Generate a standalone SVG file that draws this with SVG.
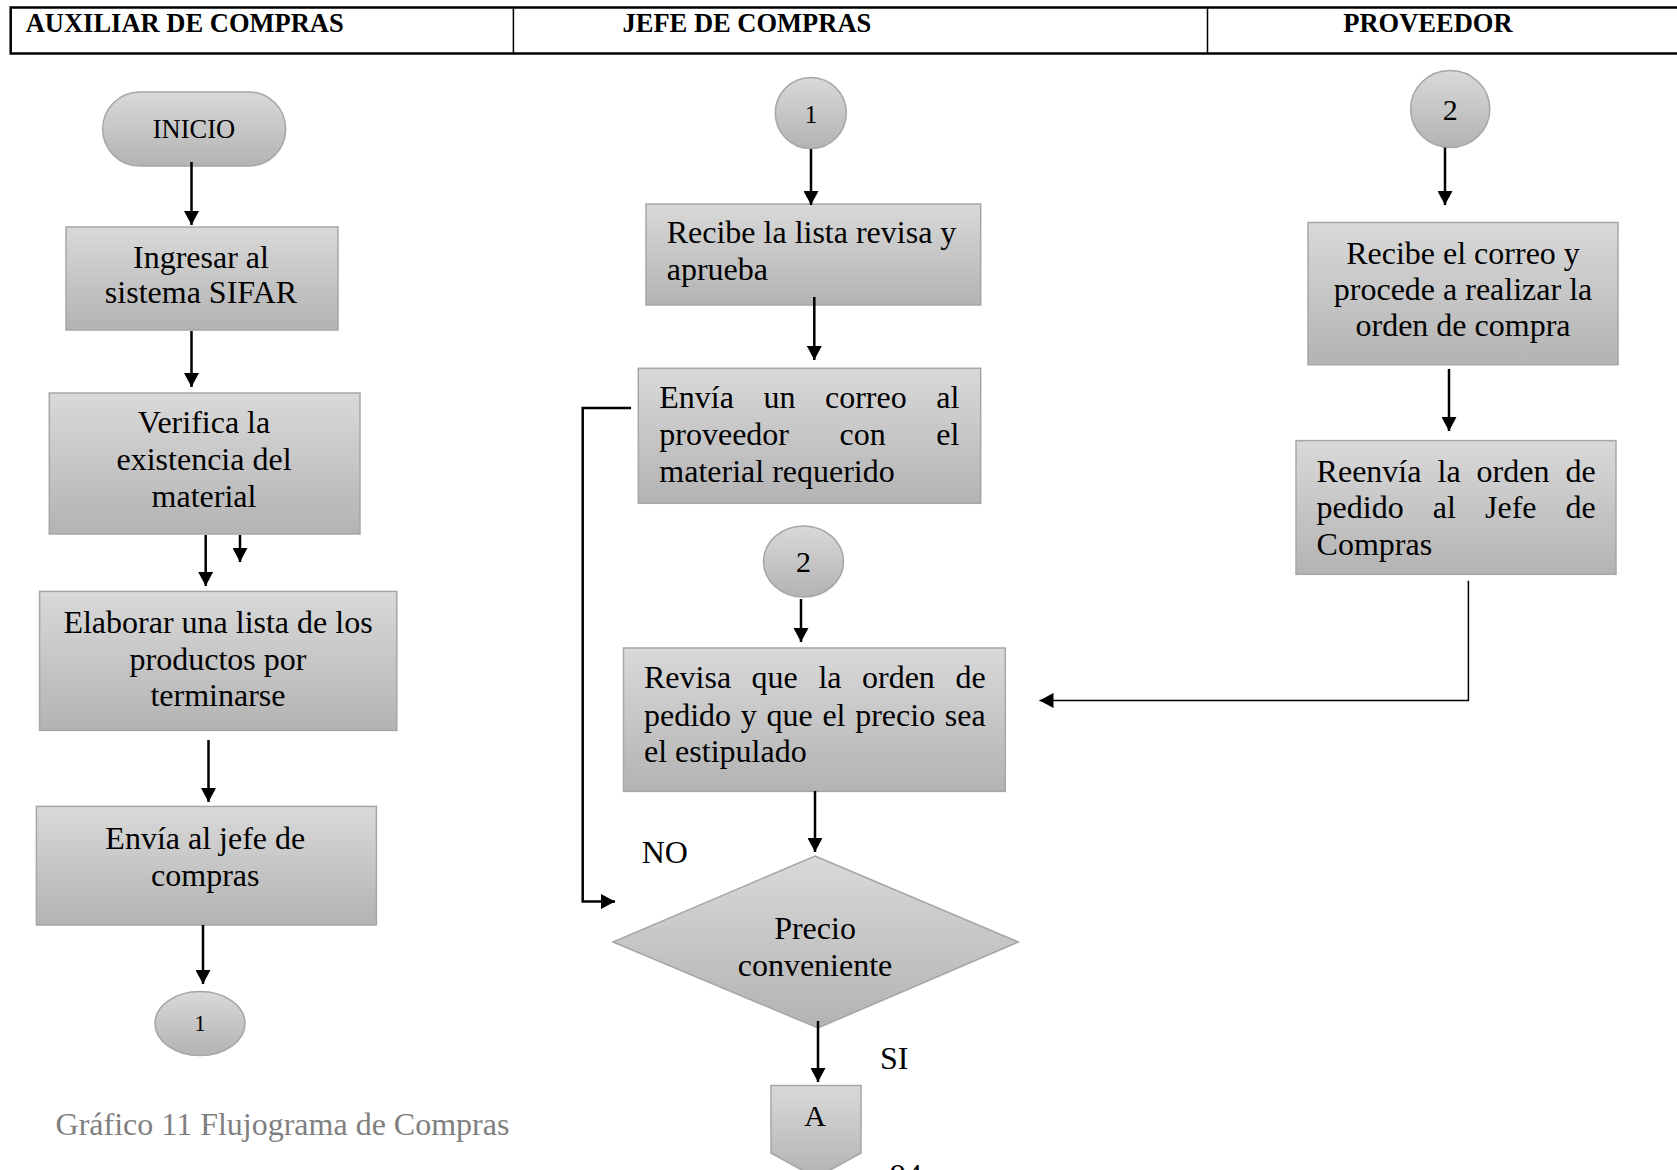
<svg xmlns="http://www.w3.org/2000/svg" width="1677" height="1170" viewBox="0 0 1677 1170">
<defs>
<linearGradient id="g" x1="0" y1="0" x2="0" y2="1">
<stop offset="0" stop-color="#d9d9d9"/>
<stop offset="1" stop-color="#b3b3b3"/>
</linearGradient>
<marker id="ah" markerUnits="userSpaceOnUse" markerWidth="14" markerHeight="15" refX="14" refY="7.5" orient="auto">
<path d="M0,0 L14,7.5 L0,15 z" fill="#000"/>
</marker>
<style>
.box{fill:url(#g);stroke:#a6a6a6;stroke-width:1.5}
.t{font-family:"Liberation Serif","Times New Roman",serif;font-size:32px;fill:#000}
.c{text-anchor:middle}
.e{text-anchor:end}
.h{font-family:"Liberation Serif","Times New Roman",serif;font-size:26.5px;font-weight:bold;fill:#000}
.s{font-family:"Liberation Serif","Times New Roman",serif;font-size:26.5px;fill:#000;text-anchor:middle}
.con{fill:none;stroke:#000;stroke-width:2.5;marker-end:url(#ah)}
</style>
</defs>
<rect width="1677" height="1170" fill="#fff"/>

<g id="header">
<path d="M1677 7.5 H10.7 V53.5 H1677" fill="none" stroke="#000" stroke-width="2.5"/>
<line x1="513.4" y1="7.5" x2="513.4" y2="53.5" stroke="#000" stroke-width="1.5"/>
<line x1="1207.5" y1="7.5" x2="1207.5" y2="53.5" stroke="#000" stroke-width="1.5"/>
<text class="h" x="25.7" y="32">AUXILIAR DE COMPRAS</text>
<text class="h" x="622.5" y="32">JEFE DE COMPRAS</text>
<text class="h" x="1343.3" y="32">PROVEEDOR</text>
</g>

<g id="inicio">
<rect class="box" x="102.7" y="92" width="183" height="74" rx="37" ry="37"/>
<text class="s" x="194" y="138">INICIO</text>
</g>
<g id="ingresar">
<rect class="box" x="66" y="227" width="272" height="103"/>
<text class="t c" x="201" y="268">Ingresar al</text>
<text class="t c" x="201" y="303">sistema SIFAR</text>
</g>
<g id="verifica">
<rect class="box" x="49.3" y="393" width="310.7" height="141"/>
<text class="t c" x="204" y="433">Verifica la</text>
<text class="t c" x="204" y="470">existencia del</text>
<text class="t c" x="204" y="507">material</text>
</g>
<g id="elaborar">
<rect class="box" x="39.6" y="591.4" width="357.2" height="139"/>
<text class="t c" x="218" y="632.5">Elaborar una lista de los</text>
<text class="t c" x="218" y="670">productos por</text>
<text class="t c" x="218" y="706">terminarse</text>
</g>
<g id="envia-jefe">
<rect class="box" x="36.4" y="806.4" width="340" height="118.6"/>
<text class="t c" x="205.3" y="848.5">Envía al jefe de</text>
<text class="t c" x="205.3" y="886">compras</text>
</g>
<g id="conn1-out">
<ellipse class="box" cx="200" cy="1023.5" rx="45" ry="32"/>
<text class="s" x="200" y="1031" style="font-size:23px">1</text>
</g>
<text id="caption" x="55.6" y="1135" style="font-family:'Liberation Serif','Times New Roman',serif;font-size:32px;fill:#7f7f7f">Gráfico 11 Flujograma de Compras</text>

<g id="conn1-in">
<circle class="box" cx="810.8" cy="113" r="35.5"/>
<text class="s" x="811" y="123" style="font-size:25px">1</text>
</g>
<g id="recibe-lista">
<rect class="box" x="646" y="204" width="334.7" height="101"/>
<text class="t" x="666.7" y="243.3">Recibe la lista revisa y</text>
<text class="t" x="666.7" y="280">aprueba</text>
</g>
<g id="envia-correo">
<rect class="box" x="638.3" y="368.3" width="342.4" height="135"/>
<text class="t" x="659.3" y="408.3">Envía</text>
<text class="t" x="763.5" y="408.3">un</text>
<text class="t" x="825" y="408.3">correo</text>
<text class="t e" x="959.3" y="408.3">al</text>
<text class="t" x="659.3" y="445">proveedor</text>
<text class="t" x="839.5" y="445">con</text>
<text class="t e" x="959.3" y="445">el</text>
<text class="t" x="659.3" y="481.7">material requerido</text>
</g>
<g id="conn2-mid">
<ellipse class="box" cx="803.5" cy="561.5" rx="40" ry="35.5"/>
<text class="s" x="803.5" y="572" style="font-size:30px">2</text>
</g>
<g id="revisa">
<rect class="box" x="623.5" y="648" width="381.8" height="143.4"/>
<text class="t" x="644" y="688">Revisa</text>
<text class="t" x="751.6" y="688">que</text>
<text class="t" x="818.4" y="688">la</text>
<text class="t" x="862" y="688">orden</text>
<text class="t e" x="985.7" y="688">de</text>
<text class="t" x="644" y="725.5">pedido</text>
<text class="t" x="740.8" y="725.5">y</text>
<text class="t" x="766.5" y="725.5">que</text>
<text class="t" x="822.4" y="725.5">el</text>
<text class="t" x="855.2" y="725.5">precio</text>
<text class="t e" x="985.7" y="725.5">sea</text>
<text class="t" x="644" y="762">el estipulado</text>
</g>
<g id="decision">
<polygon points="815,856 1018.3,942 818,1028 613,942" fill="url(#g)" stroke="#a6a6a6" stroke-width="1.5"/>
<text class="t c" x="815" y="939">Precio</text>
<text class="t c" x="815" y="975.7">conveniente</text>
</g>
<g id="offpage-A">
<polygon points="771,1085.5 861,1085.5 861,1153 816,1178 771,1153" fill="url(#g)" stroke="#a6a6a6" stroke-width="1.5"/>
<text class="t c" x="815" y="1126" style="font-size:30px">A</text>
</g>
<text class="t" x="890" y="1186">94</text>

<g id="conn2-right">
<ellipse class="box" cx="1450.2" cy="109" rx="39.6" ry="38.5"/>
<text class="s" x="1450.2" y="119.5" style="font-size:30px">2</text>
</g>
<g id="recibe-correo">
<rect class="box" x="1308" y="222.5" width="310" height="142.2"/>
<text class="t c" x="1463" y="263.5">Recibe el correo y</text>
<text class="t c" x="1463" y="300">procede a realizar la</text>
<text class="t c" x="1463" y="336">orden de compra</text>
</g>
<g id="reenvia">
<rect class="box" x="1296" y="440.6" width="320" height="133.7"/>
<text class="t" x="1316.6" y="481.6">Reenvía</text>
<text class="t" x="1437.5" y="481.6">la</text>
<text class="t" x="1476.6" y="481.6">orden</text>
<text class="t e" x="1595.7" y="481.6">de</text>
<text class="t" x="1316.6" y="518">pedido</text>
<text class="t" x="1432.8" y="518">al</text>
<text class="t" x="1485" y="518">Jefe</text>
<text class="t e" x="1595.7" y="518">de</text>
<text class="t" x="1316.6" y="555">Compras</text>
</g>

<g id="labels">
<text class="t" x="641.7" y="863">NO</text>
<text class="t" x="880" y="1069">SI</text>
</g>

<g id="connectors">
<path class="con" d="M191.5 162 V225"/>
<path class="con" d="M191.5 331 V387"/>
<path class="con" d="M205.7 535 V586"/>
<path class="con" d="M240 535 V562"/>
<path class="con" d="M208.5 740 V802"/>
<path class="con" d="M203 925 V984"/>
<path class="con" d="M811 149 V205"/>
<path class="con" d="M814.3 297 V360"/>
<path class="con" d="M631 408 H582.7 V901.6 H615"/>
<path class="con" d="M801 599 V642"/>
<path class="con" d="M815 791 V852"/>
<path class="con" d="M818 1021 V1082"/>
<path class="con" d="M1445 147.6 V205"/>
<path class="con" d="M1449 369 V431"/>
<path class="con" style="stroke-width:1.5" d="M1468.4 580.7 V700.5 H1039.5"/>
</g>
</svg>
